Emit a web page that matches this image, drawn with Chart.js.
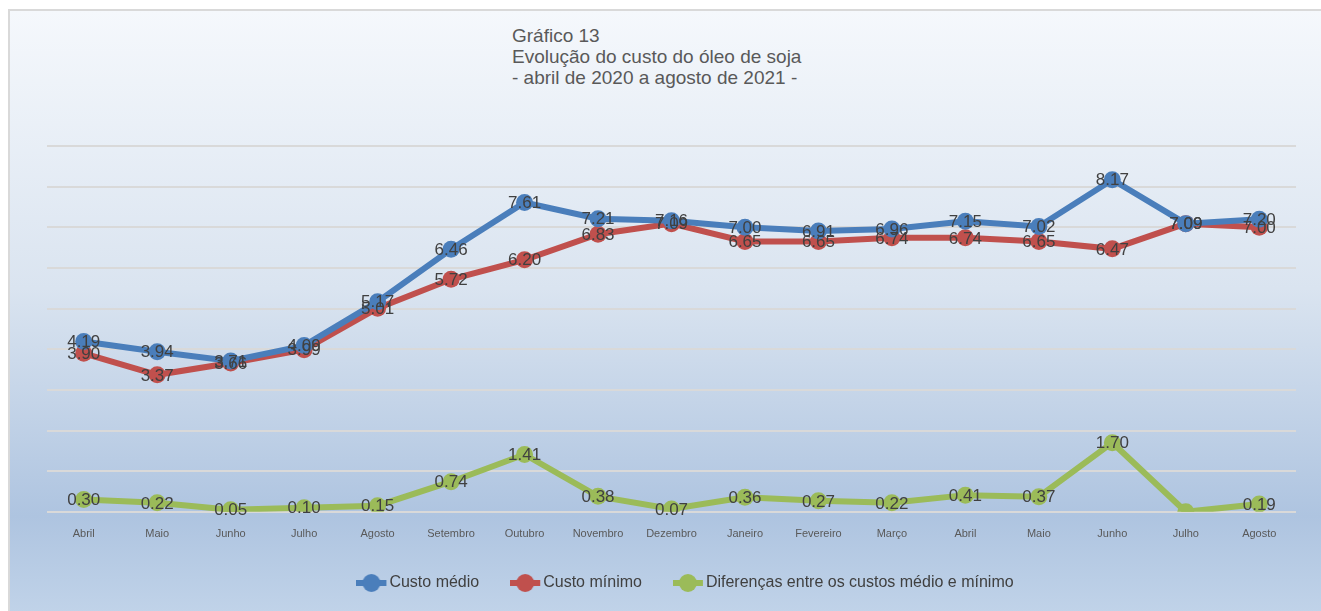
<!DOCTYPE html>
<html>
<head>
<meta charset="utf-8">
<script src="https://cdn.jsdelivr.net/npm/chart.js@4"></script>
<style>
  html, body { margin: 0; padding: 0; background: #ffffff; }
  #wrap { position: relative; width: 1321px; height: 611px; overflow: hidden; }
  #frame {
    position: absolute; left: 8px; top: 9px; width: 1330px; height: 620px;
    border: 2px solid #d9d9d9; box-sizing: border-box;
    background: linear-gradient(to bottom, #f5f8fc 0%, #dae4f0 45%, #aec4e0 82%, #c3d5ea 100%);
  }
  #title {
    position: absolute; left: 512px; top: 25px;
    font-family: "Liberation Sans", Arial, sans-serif; font-size: 19px; line-height: 21px;
    color: #595959;
  }
  #chart { position: absolute; left: 0; top: 0; }
</style>
</head>
<body>
<div id="wrap">
  <div id="frame"></div>
  <div id="title">Gráfico 13<br>Evolução do custo do óleo de soja<br>- abril de 2020 a agosto de 2021 -</div>
  <canvas id="chart" width="1321" height="611"></canvas>
</div>
<script>
var labels = ["Abril", "Maio", "Junho", "Julho", "Agosto", "Setembro", "Outubro", "Novembro",
  "Dezembro", "Janeiro", "Fevereiro", "Março", "Abril", "Maio", "Junho", "Julho", "Agosto"];
var custoMedio = [4.19, 3.94, 3.71, 4.09, 5.17, 6.46, 7.61, 7.21, 7.16, 7.00, 6.91, 6.96, 7.15, 7.02, 8.17, 7.09, 7.20];
var custoMinimo = [3.90, 3.37, 3.66, 3.99, 5.01, 5.72, 6.20, 6.83, 7.09, 6.65, 6.65, 6.74, 6.74, 6.65, 6.47, 7.09, 7.00];
var diferencas = [0.30, 0.22, 0.05, 0.10, 0.15, 0.74, 1.41, 0.38, 0.07, 0.36, 0.27, 0.22, 0.41, 0.37, 1.70, 0, 0.19];

var blue = "#4a7ebb";
var red = "#c0504d";
var green = "#9bbb59";

// legend marker: short thick line with a dot in the middle
function marker(color) {
  var c = document.createElement("canvas");
  c.width = 32;
  c.height = 20;
  var ctx = c.getContext("2d");
  ctx.strokeStyle = color;
  ctx.lineWidth = 6;
  ctx.beginPath();
  ctx.moveTo(0, 10);
  ctx.lineTo(30, 10);
  ctx.stroke();
  ctx.fillStyle = color;
  ctx.beginPath();
  ctx.arc(15, 10, 9, 0, Math.PI * 2);
  ctx.fill();
  return c;
}

// value labels centred on each point
var valueLabels = {
  id: "valueLabels",
  afterDatasetsDraw: function (chart) {
    var ctx = chart.ctx;
    ctx.save();
    ctx.font = "17px 'Liberation Sans', Arial, sans-serif";
    ctx.fillStyle = "#404040";
    ctx.textAlign = "center";
    ctx.textBaseline = "middle";
    chart.data.datasets.forEach(function (ds, di) {
      var meta = chart.getDatasetMeta(di);
      meta.data.forEach(function (pt, i) {
        var v = ds.data[i];
        if (v === 0) return;
        ctx.fillText(v.toFixed(2), pt.x, pt.y + 1);
      });
    });
    ctx.restore();
  },
};

// nudge the legend box to where the original sits
var legendNudge = {
  id: "legendNudge",
  afterLayout: function (chart) {
    var lg = chart.legend;
    if (!lg) return;
    lg.left += 17;
    lg.right += 17;
    lg.top -= 12;
    lg.bottom -= 12;
  },
};

function series(label, data, color) {
  return {
    label: label,
    data: data,
    borderColor: color,
    backgroundColor: color,
    borderWidth: 6,
    pointRadius: 8.5,
    pointHoverRadius: 8.5,
    pointBorderWidth: 0,
    pointStyle: "circle",
    tension: 0,
  };
}

var config = {
  type: "line",
  data: {
    labels: labels,
    datasets: [
      series("Custo médio", custoMedio, blue),
      series("Custo mínimo", custoMinimo, red),
      series("Diferenças entre os custos médio e mínimo", diferencas, green),
    ],
  },
  options: {
    responsive: false,
    animation: false,
    layout: { padding: { left: 47, right: 25, top: 146, bottom: -2 } },
    scales: {
      x: {
        offset: true,
        grid: { display: false },
        border: { display: false },
        ticks: {
          color: "#595959",
          font: { family: "'Liberation Sans', Arial, sans-serif", size: 11 },
          padding: 8,
          maxRotation: 0,
          autoSkip: false,
        },
      },
      y: {
        min: 0,
        max: 9,
        display: true,
        border: { display: false },
        grid: { color: "#d9d9d9", lineWidth: 2, drawTicks: false },
        ticks: { display: false, stepSize: 1 },
      },
    },
    plugins: {
      tooltip: { enabled: false },
      legend: {
        position: "bottom",
        labels: {
          color: "#404040",
          font: { family: "'Liberation Sans', Arial, sans-serif", size: 16 },
          usePointStyle: true,
          pointStyleWidth: 18,
          padding: 38,
          generateLabels: function (chart) {
            return chart.data.datasets.map(function (ds, i) {
              return {
                text: ds.label,
                pointStyle: marker(ds.borderColor),
                fillStyle: ds.borderColor,
                strokeStyle: ds.borderColor,
                lineWidth: 0,
                fontColor: "#404040",
                datasetIndex: i,
              };
            });
          },
        },
      },
    },
  },
  plugins: [valueLabels, legendNudge],
};

new Chart(document.getElementById("chart"), config);
</script>
</body>
</html>
